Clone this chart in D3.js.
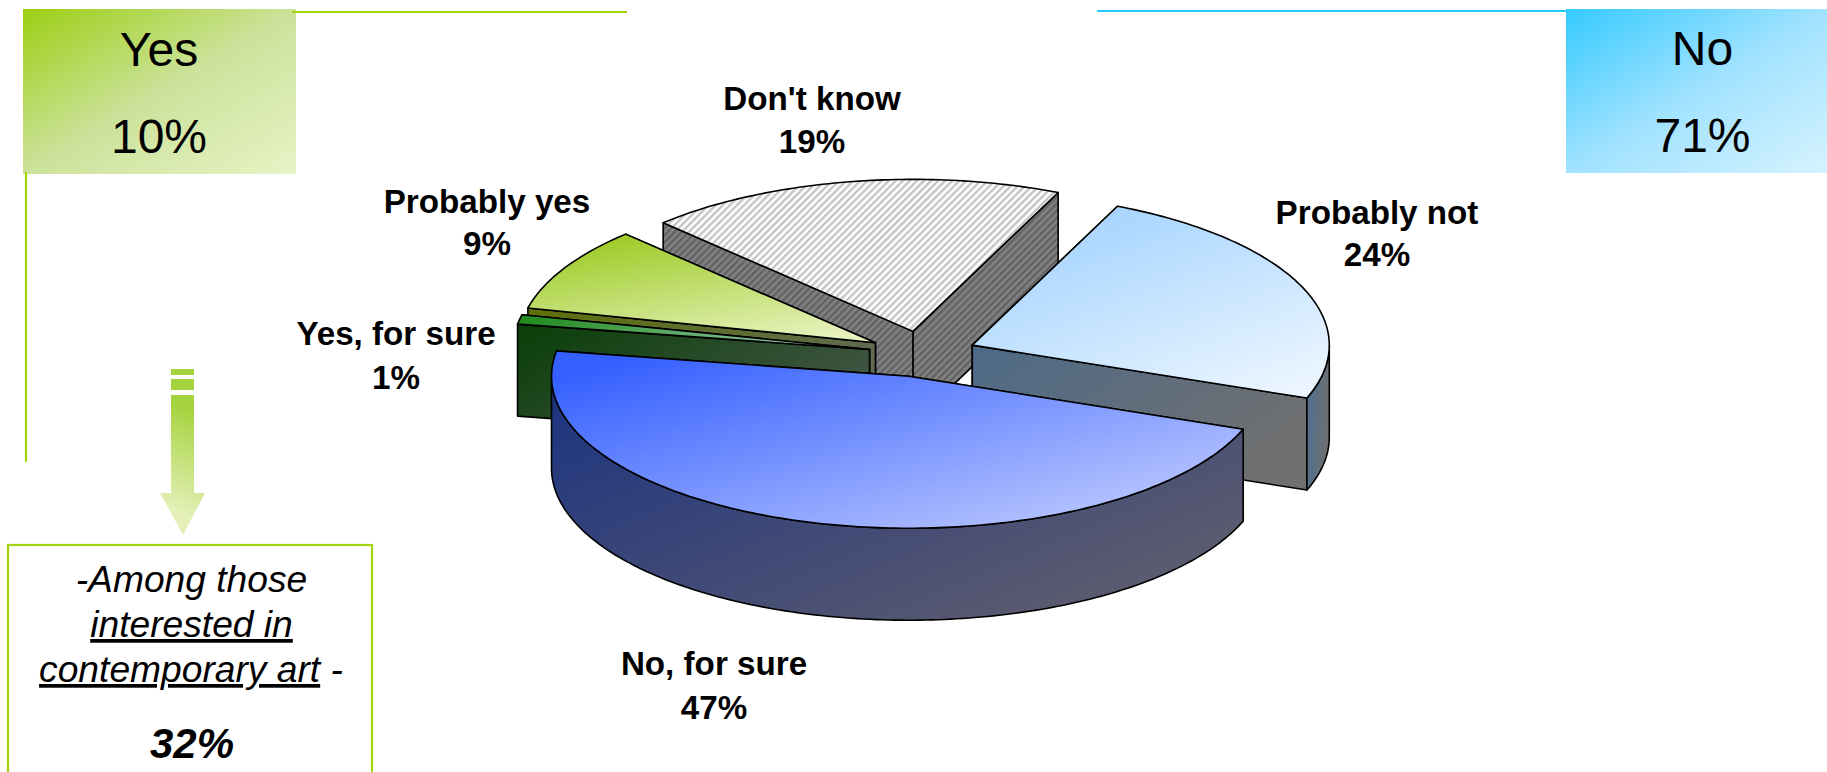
<!DOCTYPE html>
<meta charset="utf-8">
<style>
  html, body { margin: 0; background: #fff; }
  svg { display: block; font-family: "Liberation Sans", Arial, sans-serif; }
  .slice-label { font-size: 33.2px; font-weight: bold; text-anchor: middle; fill: #000; }
  .total { font-size: 48px; text-anchor: middle; fill: #000; }
  .note { font-size: 37.2px; font-style: italic; text-anchor: middle; fill: #000; }
</style>
<svg id="chart" width="1827" height="772"></svg>
<script src="https://d3js.org/d3.v7.min.js"></script>
<script>
// answers, in the clockwise order they go round the pie
var categories = ["Probably not", "No, for sure", "Yes, for sure", "Probably yes", "Don't know"]
var values = [24, 47, 1, 9, 19]
var totalNames = ["Yes", "No"]
var totalValues = [10, 71]
var noteLines = ["-Among those", "interested in", "contemporary art"]
var noteValue = 32

var svg = d3.select("#chart")
var defs = svg.append("defs")

function gradient(id, from, to, x1, y1, x2, y2, mid) {
  var g = defs.append("linearGradient").attr("id", id)
    .attr("x1", x1).attr("y1", y1).attr("x2", x2).attr("y2", y2)
  g.append("stop").attr("offset", 0).attr("stop-color", from)
  if (mid) g.append("stop").attr("offset", 0.5).attr("stop-color", mid)
  g.append("stop").attr("offset", 1).attr("stop-color", to)
  return g
}

function stripes(id, base, line) {
  var p = defs.append("pattern").attr("id", id).attr("patternUnits", "userSpaceOnUse")
    .attr("width", 5).attr("height", 5).attr("patternTransform", "rotate(45)")
  p.append("rect").attr("width", 5).attr("height", 5).attr("fill", base)
  p.append("rect").attr("width", 2.4).attr("height", 5).attr("fill", line)
}

gradient("topNot", "#9ccfff", "#eaf5ff", 0.1, 0, 0.8, 1)
gradient("wallNot", "#4d6a88", "#707070", 0, 0, 1, 0.6)
gradient("rimNot", "#4f6f8f", "#6f7070", 0, 0.3, 1, 0.5)
gradient("topNo", "#3560ff", "#bcc8ff", 0.1, 0.05, 0.95, 0.85)
gradient("wallNo", "#1d347f", "#5a5a70", 0, 0.1, 0.85, 0.8)
gradient("topSure", "#1f8a1c", "#88c29c", 0, 0, 0.75, 0)
gradient("wallSure", "#0c3f0a", "#46584a", 0, 0.1, 1, 0.7)
gradient("topMaybe", "#9ccb24", "#e7f2bd", 0.25, 0, 0.75, 1)
gradient("wallMaybe", "#5e7008", "#5f6a50", 0, 0, 1, 0)
gradient("boxYes", "#9ccf14", "#e8f3c6", 0, 0, 1, 1, "#cbe29a")
gradient("boxNo", "#35caff", "#d6f3ff", 0, 0, 1, 1, "#a0e2ff")
stripes("topKnow", "#ffffff", "#c4c4c4")
stripes("wallKnow", "#828282", "#626262")

// fills per slice, same order as categories
var topFills = ["url(#topNot)", "url(#topNo)", "url(#topSure)", "url(#topMaybe)", "url(#topKnow)"]
var wallFills = ["url(#wallNot)", "url(#wallNo)", "url(#wallSure)", "url(#wallMaybe)", "url(#wallKnow)"]
var rimFills = ["url(#rimNot)", "url(#wallNo)", "url(#wallSure)", "url(#wallMaybe)", "url(#wallKnow)"]

// tilted pie: circle squashed to an ellipse, slices pulled out along their middle
var center = { x: 922.5, y: 354 }
var rx = 357, ry = 152, depth = 92, explode = 54

var rad = Math.PI / 180
var pie = d3.pie().sort(null).startAngle(24 * rad).endAngle(384 * rad)
var slices = pie(values).map(function(d) {
  var mid = (d.startAngle + d.endAngle) / 2
  d.cx = center.x + explode * Math.sin(mid)
  d.cy = center.y - explode * (ry / rx) * Math.cos(mid)
  d.fillTop = topFills[d.index]
  d.fillWall = wallFills[d.index]
  d.fillRim = rimFills[d.index]
  return d
})

function pt(d, a, drop) {
  return [d.cx + rx * Math.sin(a), d.cy - ry * Math.cos(a) + (drop || 0)]
}

function sweep(d, a0, a1, drop) {
  var n = Math.max(2, Math.ceil((a1 - a0) / (1 * rad)))
  return d3.range(n + 1).map(function(i) { return pt(d, a0 + (a1 - a0) * i / n, drop) })
}

var line = d3.line()

// back to front, so nearer slices cover the ones behind
var drawOrder = [4, 3, 2, 0, 1]
var pieG = svg.append("g").attr("stroke", "#000").attr("stroke-width", 1.6).attr("stroke-linejoin", "round")

drawOrder.forEach(function(i) {
  var d = slices[i]
  var g = pieG.append("g").attr("class", "slice")

  // the two cut faces, the one further back first
  var cuts = [d.startAngle, d.endAngle].sort(function(a, b) { return pt(d, a)[1] - pt(d, b)[1] })
  cuts.forEach(function(a) {
    var p = pt(d, a), q = pt(d, a, depth)
    g.append("path")
      .attr("d", line([[d.cx, d.cy], p, q, [d.cx, d.cy + depth]]) + "Z")
      .attr("fill", d.fillWall)
  })

  // outer rim only shows on the front half of the ellipse
  var from = Math.max(d.startAngle, 90 * rad), to = Math.min(d.endAngle, 270 * rad)
  if (to > from) {
    var rim = sweep(d, from, to, 0).concat(sweep(d, from, to, depth).reverse())
    g.append("path").attr("d", line(rim) + "Z").attr("fill", d.fillRim)
  }

  var top = [[d.cx, d.cy]].concat(sweep(d, d.startAngle, d.endAngle, 0))
  g.append("path").attr("d", line(top) + "Z").attr("fill", d.fillTop)
})

// slice labels
var labelPos = [[1377, 224], [714, 675], [396, 345], [487, 213], [812, 110]]
var labelGap = [42, 44, 44, 42, 43]
categories.forEach(function(c, i) {
  var t = svg.append("text").attr("class", "slice-label")
    .attr("x", labelPos[i][0]).attr("y", labelPos[i][1])
  t.append("tspan").attr("x", labelPos[i][0]).text(c)
  t.append("tspan").attr("x", labelPos[i][0]).attr("dy", labelGap[i]).text(values[i] + "%")
})

// Yes / No boxes with their rules
svg.append("rect").attr("x", 23).attr("y", 9).attr("width", 273).attr("height", 165).attr("fill", "url(#boxYes)")
svg.append("rect").attr("x", 1566).attr("y", 9).attr("width", 261).attr("height", 164).attr("fill", "url(#boxNo)")
svg.append("path").attr("d", "M292,12H627M26,172V462").attr("fill", "none").attr("stroke", "#a2d40e").attr("stroke-width", 2.2)
svg.append("path").attr("d", "M1097,11H1566").attr("fill", "none").attr("stroke", "#22ccff").attr("stroke-width", 2)

var totalX = [159, 1702.5]
totalNames.forEach(function(n, i) {
  svg.append("text").attr("class", "total").attr("x", totalX[i]).attr("y", 66 - i).text(n)
  svg.append("text").attr("class", "total").attr("x", totalX[i]).attr("y", 153 - i).text(totalValues[i] + "%")
})

// broken arrow down to the note
gradient("arrowFill", "#a4d23c", "#e4f0b8", 0, 0, 0, 0)
  .attr("gradientUnits", "userSpaceOnUse")
  .attr("x1", 198).attr("y1", 410).attr("x2", 160).attr("y2", 505)
var arrow = svg.append("g").attr("fill", "url(#arrowFill)")
arrow.append("rect").attr("x", 171).attr("y", 369).attr("width", 23).attr("height", 6)
arrow.append("rect").attr("x", 171).attr("y", 379).attr("width", 23).attr("height", 11)
arrow.append("path").attr("d", "M171,395H194V493H205L183,535L160,493H171Z")

// note box, runs off the bottom edge
svg.append("rect").attr("x", 8).attr("y", 545).attr("width", 364).attr("height", 260)
  .attr("fill", "#fff").attr("stroke", "#a2d40e").attr("stroke-width", 2.2)

svg.append("text").attr("class", "note").attr("x", 191.5).attr("y", 592).text(noteLines[0])
svg.append("text").attr("class", "note").attr("x", 191.5).attr("y", 637)
  .append("tspan").style("text-decoration", "underline").text(noteLines[1])
var third = svg.append("text").attr("class", "note").attr("x", 191).attr("y", 682)
third.append("tspan").style("text-decoration", "underline").text(noteLines[2])
third.append("tspan").text(" -")
svg.append("text").attr("class", "note").attr("x", 192).attr("y", 758)
  .style("font-weight", "bold").style("font-size", "42px").text(noteValue + "%")
</script>
